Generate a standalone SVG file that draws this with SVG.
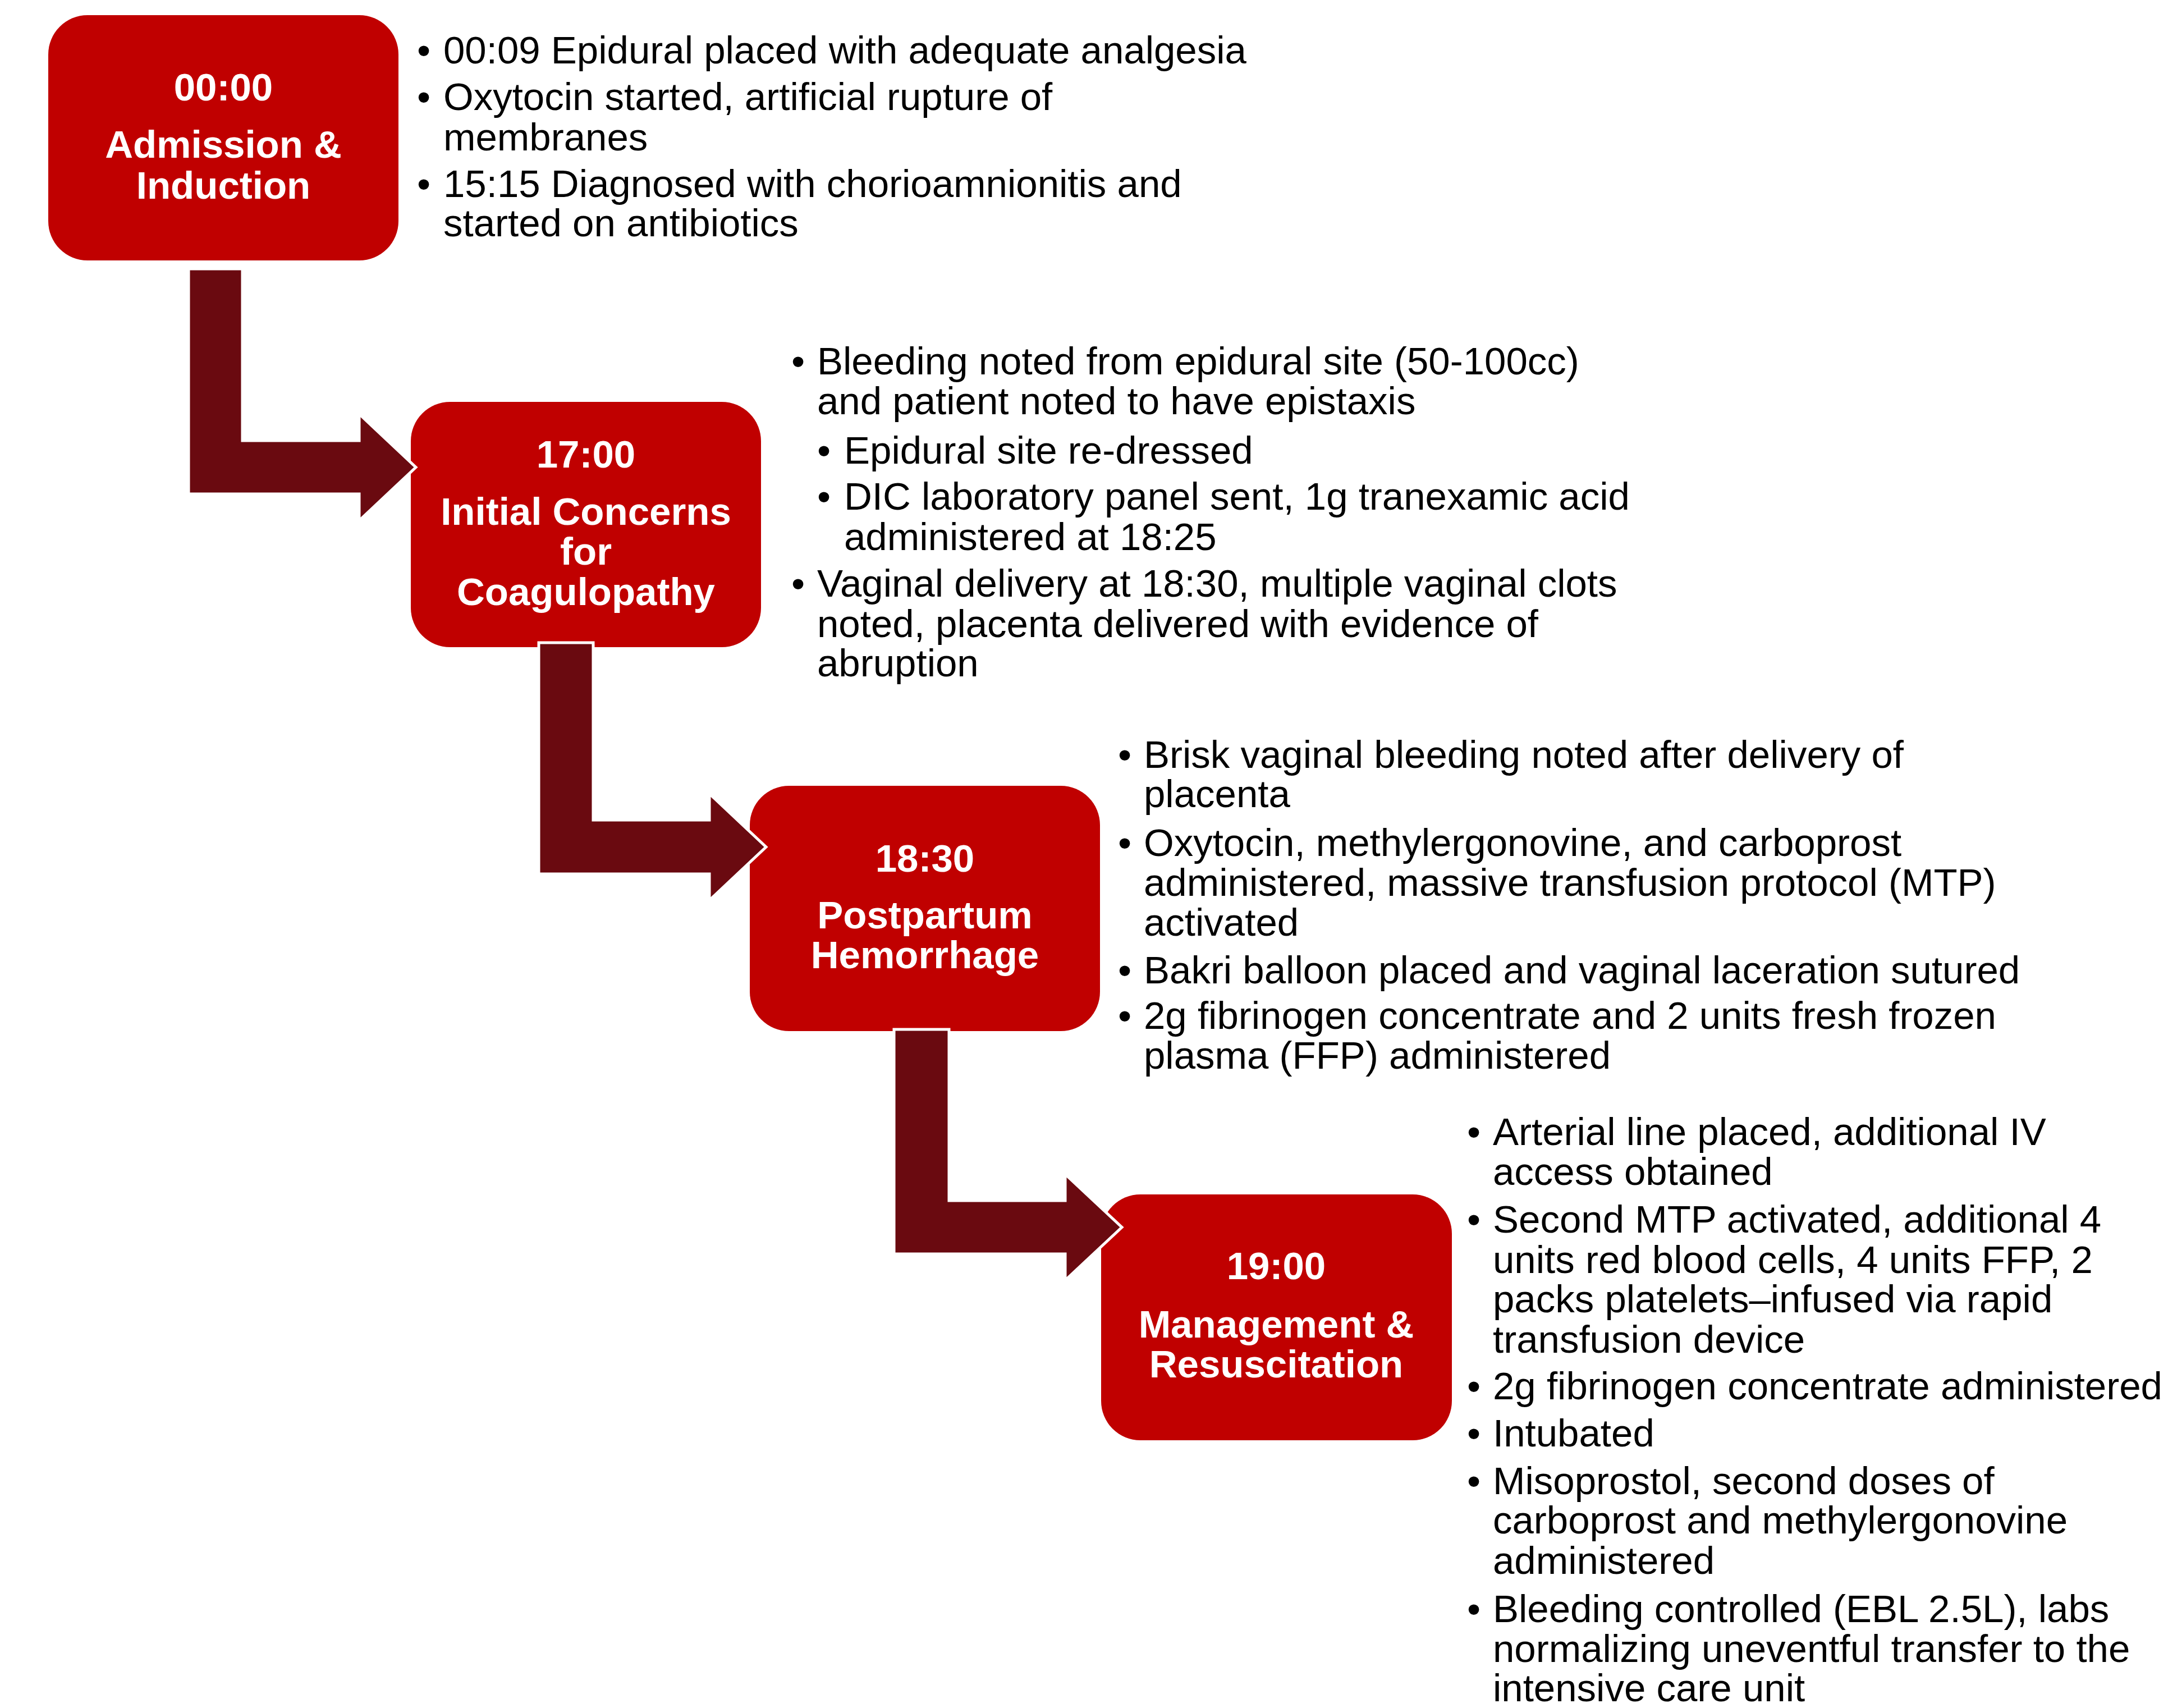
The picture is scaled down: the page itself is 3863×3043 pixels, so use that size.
<svg xmlns="http://www.w3.org/2000/svg" width="3863" height="3043" viewBox="0 0 3863 3043">
<style>
.box{fill:#C00000;}
.ttl{font-family:"Liberation Sans",Arial,sans-serif;font-weight:bold;font-size:69px;fill:#FFFFFF;text-anchor:middle;}
.txt{font-family:"Liberation Sans",Arial,sans-serif;font-size:69px;fill:#000000;}
.conn{fill:#6A0A10;stroke:#FFFFFF;stroke-width:5;stroke-linejoin:miter;}
</style>
<rect width="3863" height="3043" fill="#FFFFFF"/>
<g id="node-admission">
<rect class="box" x="86" y="27" width="624" height="437" rx="70" ry="70"/>
<text class="ttl" x="398" y="179">00:00</text>
<text class="ttl" x="398" y="281">Admission &amp;</text>
<text class="ttl" x="398" y="354">Induction</text>
</g>
<g id="node-concerns">
<rect class="box" x="732" y="716" width="624" height="437" rx="70" ry="70"/>
<text class="ttl" x="1044" y="833">17:00</text>
<text class="ttl" x="1044" y="935">Initial Concerns</text>
<text class="ttl" x="1044" y="1006">for</text>
<text class="ttl" x="1044" y="1078">Coagulopathy</text>
</g>
<g id="node-pph">
<rect class="box" x="1336" y="1400" width="624" height="437" rx="70" ry="70"/>
<text class="ttl" x="1648" y="1553">18:30</text>
<text class="ttl" x="1648" y="1654">Postpartum</text>
<text class="ttl" x="1648" y="1725">Hemorrhage</text>
</g>
<g id="node-management">
<rect class="box" x="1962" y="2128" width="625" height="438" rx="70" ry="70"/>
<text class="ttl" x="2274" y="2279">19:00</text>
<text class="ttl" x="2274" y="2383">Management &amp;</text>
<text class="ttl" x="2274" y="2454">Resuscitation</text>
</g>
<g id="connectors">
<path class="conn" d="M336,479 H432 V785 H640 V737.5 L741,832.5 L640,927.5 V880 H336 Z"/>
<path class="conn" d="M960,1145 H1057 V1461 H1264 V1414 L1365,1509 L1264,1604 V1557 H960 Z"/>
<path class="conn" d="M1593,1834 H1691 V2139 H1898 V2092 L1999,2186.5 L1898,2281 V2234 H1593 Z"/>
</g>
<g id="notes-admission" class="txt">
<text class="txt" x="743" y="113">•</text><text class="txt" x="790" y="113">00:09 Epidural placed with adequate analgesia</text>
<text class="txt" x="743" y="196">•</text><text class="txt" x="790" y="196">Oxytocin started, artificial rupture of</text>
<text class="txt" x="790" y="268">membranes</text>
<text class="txt" x="743" y="351">•</text><text class="txt" x="790" y="351">15:15 Diagnosed with chorioamnionitis and</text>
<text class="txt" x="790" y="421">started on antibiotics</text>
</g>
<g id="notes-concerns">
<text class="txt" x="1410" y="667">•</text><text class="txt" x="1456" y="667">Bleeding noted from epidural site (50-100cc)</text>
<text class="txt" x="1456" y="738">and patient noted to have epistaxis</text>
<text class="txt" x="1456" y="826">•</text><text class="txt" x="1504" y="826">Epidural site re-dressed</text>
<text class="txt" x="1456" y="908">•</text><text class="txt" x="1504" y="908">DIC laboratory panel sent, 1g tranexamic acid</text>
<text class="txt" x="1504" y="980">administered at 18:25</text>
<text class="txt" x="1410" y="1063">•</text><text class="txt" x="1456" y="1063">Vaginal delivery at 18:30, multiple vaginal clots</text>
<text class="txt" x="1456" y="1135">noted, placenta delivered with evidence of</text>
<text class="txt" x="1456" y="1205">abruption</text>
</g>
<g id="notes-pph">
<text class="txt" x="1992" y="1368">•</text><text class="txt" x="2038" y="1368">Brisk vaginal bleeding noted after delivery of</text>
<text class="txt" x="2038" y="1438">placenta</text>
<text class="txt" x="1992" y="1525">•</text><text class="txt" x="2038" y="1525">Oxytocin, methylergonovine, and carboprost</text>
<text class="txt" x="2038" y="1596">administered, massive transfusion protocol (MTP)</text>
<text class="txt" x="2038" y="1667">activated</text>
<text class="txt" x="1992" y="1752">•</text><text class="txt" x="2038" y="1752">Bakri balloon placed and vaginal laceration sutured</text>
<text class="txt" x="1992" y="1833">•</text><text class="txt" x="2038" y="1833">2g fibrinogen concentrate and 2 units fresh frozen</text>
<text class="txt" x="2038" y="1904">plasma (FFP) administered</text>
</g>
<g id="notes-management">
<text class="txt" x="2614" y="2040">•</text><text class="txt" x="2660" y="2040">Arterial line placed, additional IV</text>
<text class="txt" x="2660" y="2111">access obtained</text>
<text class="txt" x="2614" y="2196">•</text><text class="txt" x="2660" y="2196">Second MTP activated, additional 4</text>
<text class="txt" x="2660" y="2268">units red blood cells, 4 units FFP, 2</text>
<text class="txt" x="2660" y="2338">packs platelets–infused via rapid</text>
<text class="txt" x="2660" y="2410">transfusion device</text>
<text class="txt" x="2614" y="2493">•</text><text class="txt" x="2660" y="2493">2g fibrinogen concentrate administered</text>
<text class="txt" x="2614" y="2577">•</text><text class="txt" x="2660" y="2577">Intubated</text>
<text class="txt" x="2614" y="2662">•</text><text class="txt" x="2660" y="2662">Misoprostol, second doses of</text>
<text class="txt" x="2660" y="2732">carboprost and methylergonovine</text>
<text class="txt" x="2660" y="2804">administered</text>
<text class="txt" x="2614" y="2890">•</text><text class="txt" x="2660" y="2890">Bleeding controlled (EBL 2.5L), labs</text>
<text class="txt" x="2660" y="2961">normalizing uneventful transfer to the</text>
<text class="txt" x="2660" y="3031">intensive care unit</text>
</g>
</svg>
